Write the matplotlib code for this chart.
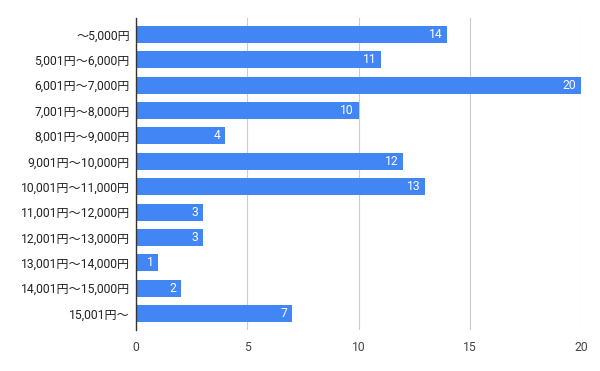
import matplotlib
matplotlib.use('Agg')
import matplotlib.pyplot as plt

plt.rcParams['font.family'] = ['Roboto', 'Noto Sans CJK JP', 'DejaVu Sans']

# 価格帯ごとの件数
categories = ['～5,000円', '5,001円～6,000円', '6,001円～7,000円', '7,001円～8,000円',
              '8,001円～9,000円', '9,001円～10,000円', '10,001円～11,000円',
              '11,001円～12,000円', '12,001円～13,000円', '13,001円～14,000円',
              '14,001円～15,000円', '15,001円～']
counts = [14, 11, 20, 10, 4, 12, 13, 3, 3, 1, 2, 7]
x_ticks = [0, 5, 10, 15, 20]

fig = plt.figure(figsize=(6, 3.71), dpi=100)
ax = fig.add_axes([0.2267, 0.1105, 0.7416, 0.841])

y = list(range(len(categories)))
ax.barh(y, counts, height=0.67, color='#4285F4', zorder=3)

for yi, v in zip(y, counts):
    ax.text(v - 0.2, yi, str(v), color='white', ha='right', va='center',
            fontsize=8.7, zorder=4)

ax.set_yticks(y)
ax.set_yticklabels(categories, fontsize=8.7, color='#222222')
ax.set_ylim(len(categories) - 0.35, -0.65)
ax.set_xlim(0, 20)
ax.set_xticks(x_ticks)
ax.set_xticklabels([str(t) for t in x_ticks], fontsize=8.7, color='#444444')
ax.tick_params(axis='both', length=0)
ax.tick_params(axis='x', pad=8)
ax.tick_params(axis='y', pad=4.5)

ax.grid(axis='x', color='#cccccc', linewidth=0.8, zorder=0)
for s in ['top', 'right', 'bottom']:
    ax.spines[s].set_visible(False)
ax.spines['left'].set_color('#333333')
ax.spines['left'].set_linewidth(1)
ax.spines['left'].set_zorder(5)

fig.savefig('out.png', dpi=100)
